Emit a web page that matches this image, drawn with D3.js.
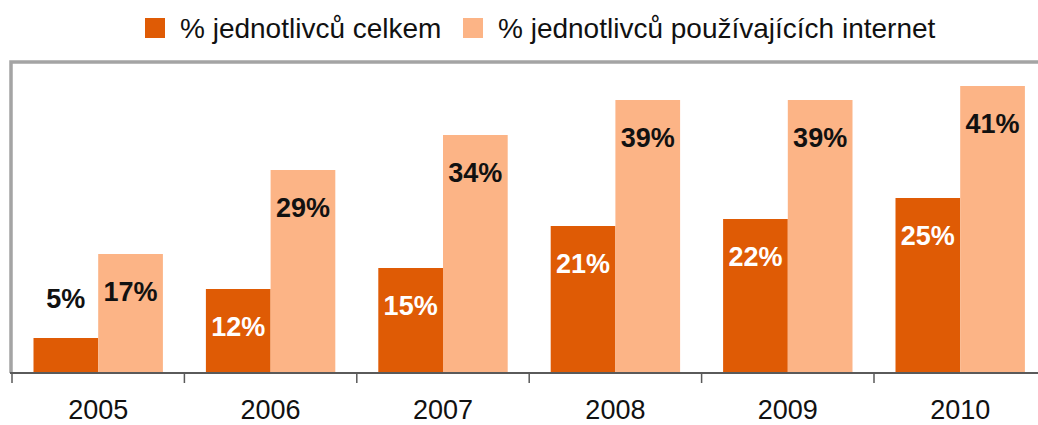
<!DOCTYPE html>
<html>
<head>
<meta charset="utf-8">
<script src="https://cdn.jsdelivr.net/npm/d3@7"></script>
<style>
  body { margin: 0; background: #fff; }
  svg { display: block; font-family: "Liberation Sans", Arial, sans-serif; }
</style>
</head>
<body>
<svg id="chart"></svg>
<script>
// data
const years = ['2005', '2006', '2007', '2008', '2009', '2010'];
const seriesNames = ['% jednotlivců celkem', '% jednotlivců používajících internet'];
const totalPct = [5, 12, 15, 21, 22, 25];
const internetPct = [17, 29, 34, 39, 39, 41];
const colors = ['#df5b05', '#fcb486'];

const width = 1038, height = 425;
const margin = {top: 62, left: 12, bottom: 373};
const bandW = 172.4;

const svg = d3.select('#chart')
    .attr('width', width)
    .attr('height', height);

const x0 = d3.scaleBand()
    .domain(years)
    .range([margin.left, margin.left + bandW * years.length]);

const x1 = d3.scaleBand()
    .domain([0, 1])
    .range([21.5, bandW - 21.5]);

const y = d3.scaleLinear()
    .domain([0, 311 / 7])
    .range([margin.bottom, margin.top]);

const rows = years.map((yr, i) => ({year: yr, values: [totalPct[i], internetPct[i]]}));

// frame (left + top)
svg.append('path')
    .attr('d', `M11,${margin.bottom} V${margin.top} H${width}`)
    .attr('fill', 'none')
    .attr('stroke', '#a4a4a4')
    .attr('stroke-width', 3.5);

// bars
const groups = svg.selectAll('g.year')
    .data(rows)
    .join('g')
    .attr('class', 'year')
    .attr('transform', d => `translate(${x0(d.year)},0)`);

groups.selectAll('rect')
    .data(d => d.values.map((v, k) => ({k, v})))
    .join('rect')
    .attr('x', d => x1(d.k))
    .attr('width', x1.bandwidth())
    .attr('y', d => y(d.v))
    .attr('height', d => y(0) - y(d.v))
    .attr('fill', d => colors[d.k]);

// value labels
groups.selectAll('text.val')
    .data(d => d.values.map((v, k) => ({k, v})))
    .join('text')
    .attr('class', 'val')
    .attr('x', d => x1(d.k) + x1.bandwidth() / 2)
    .attr('y', d => {
        const h = y(0) - y(d.v);
        return h < 60 ? y(d.v) - 30 : y(d.v) + 47;
    })
    .attr('text-anchor', 'middle')
    .style('font-size', '27px')
    .style('font-weight', 'bold')
    .attr('fill', d => (d.k === 0 && (y(0) - y(d.v)) >= 60) ? '#ffffff' : '#111111')
    .text(d => d.v + '%');

// x axis
svg.append('line')
    .attr('x1', 10).attr('x2', width)
    .attr('y1', margin.bottom).attr('y2', margin.bottom)
    .attr('stroke', '#5a5a5a')
    .attr('stroke-width', 2);

svg.selectAll('line.tick')
    .data(years)
    .join('line')
    .attr('class', 'tick')
    .attr('x1', d => x0(d)).attr('x2', d => x0(d))
    .attr('y1', margin.bottom).attr('y2', margin.bottom + 10)
    .attr('stroke', '#5a5a5a')
    .attr('stroke-width', 1.5);

const xAxis = d3.axisBottom(x0).tickSize(0).tickPadding(27);
const xAxisG = svg.append('g')
    .attr('transform', `translate(0,${margin.bottom})`)
    .call(xAxis);
xAxisG.select('.domain').remove();
xAxisG.selectAll('text')
    .style('font-size', '27px')
    .style('font-family', '"Liberation Sans", Arial, sans-serif')
    .attr('fill', '#111');

// legend
const legendX = [145, 463];
const legend = svg.selectAll('g.legend')
    .data(seriesNames)
    .join('g')
    .attr('class', 'legend')
    .attr('transform', (d, i) => `translate(${legendX[i]},18)`);

legend.append('rect')
    .attr('width', 20)
    .attr('height', 20)
    .attr('fill', (d, i) => colors[i]);

legend.append('text')
    .attr('x', 35)
    .attr('y', 20)
    .style('font-size', '28px')
    .attr('fill', '#111')
    .text(d => d);
</script>
</body>
</html>
